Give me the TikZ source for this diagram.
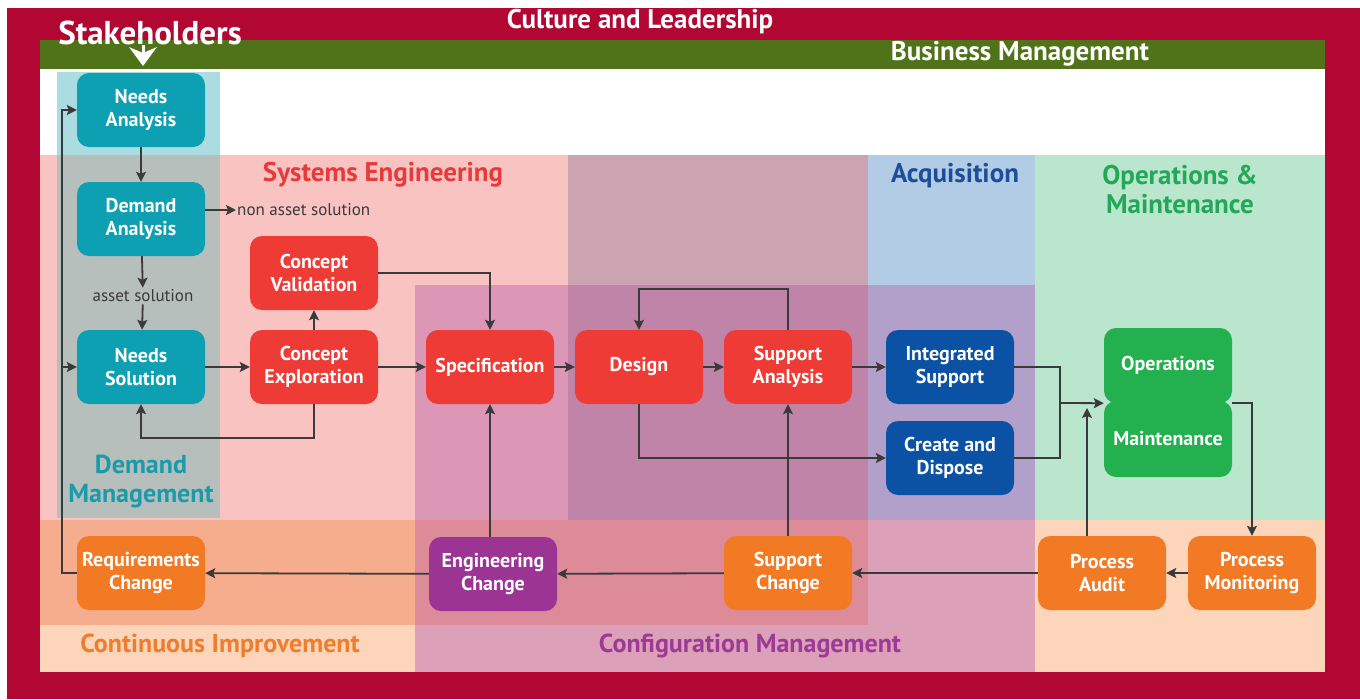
\documentclass[tikz,border=0pt]{standalone}
\usepackage{fontspec}
\setmainfont{PT Sans}
\usetikzlibrary{arrows.meta}
\definecolor{crimson}{RGB}{178,7,51}
\definecolor{bmgreen}{RGB}{80,115,26}
\definecolor{sepink}{RGB}{249,195,194}
\definecolor{mauve}{RGB}{204,163,177}
\definecolor{acqblue}{RGB}{179,204,229}
\definecolor{omgreen}{RGB}{185,230,204}
\definecolor{cmpink}{RGB}{220,150,182}
\definecolor{cmmauve}{RGB}{191,132,168}
\definecolor{cmblue}{RGB}{178,160,203}
\definecolor{ciorange}{RGB}{246,173,142}
\definecolor{cmorange}{RGB}{221,138,153}
\definecolor{peach}{RGB}{252,213,186}
\definecolor{cmlight}{RGB}{220,161,185}
\definecolor{dmlight}{RGB}{170,220,226}
\definecolor{dmgray}{RGB}{182,191,187}
\definecolor{tealbox}{RGB}{12,160,178}
\definecolor{redbox}{RGB}{238,59,53}
\definecolor{bluebox}{RGB}{11,82,164}
\definecolor{greenbox}{RGB}{35,177,79}
\definecolor{orangebox}{RGB}{242,122,36}
\definecolor{purplebox}{RGB}{156,52,148}
\definecolor{setext}{RGB}{231,58,58}
\definecolor{acqtext}{RGB}{28,78,154}
\definecolor{omtext}{RGB}{35,168,90}
\definecolor{dmtext}{RGB}{27,154,170}
\definecolor{citext}{RGB}{238,125,46}
\definecolor{cmtext}{RGB}{157,58,150}
\definecolor{linegray}{RGB}{58,58,58}

\begin{document}
\begin{tikzpicture}[x=1pt,y=-1pt,
    box/.style={rounded corners=12pt,minimum width=128pt,minimum height=74pt,inner sep=2pt,text=white,align=center,font=\bfseries\fontsize{20}{23}\selectfont},
    title/.style={font=\bfseries\fontsize{27}{29}\selectfont,align=center},
    note/.style={font=\fontsize{17}{20}\selectfont,text=linegray},
    link/.style={draw=linegray,line width=1.8pt,-{Stealth[length=10pt,width=10pt,inset=2pt]}},
    plain/.style={draw=linegray,line width=1.8pt}]
    \useasboundingbox(0,0)rectangle(1360,699);
    \fill[crimson](7,8)rectangle(1360,699);
    \fill[white](40,40)rectangle(1325,672);
    \fill[bmgreen](40,40)rectangle(1325,69);
    \fill[sepink](40,155)rectangle(568,520);
    \fill[mauve](568,155)rectangle(868,285);
    \fill[acqblue](868,155)rectangle(1035,285);
    \fill[cmblue](868,285)rectangle(1035,520);
    \fill[omgreen](1035,155)rectangle(1325,520);
    \fill[cmpink](415,285)rectangle(568,520);
    \fill[cmmauve](568,285)rectangle(868,520);
    \fill[ciorange](40,520)rectangle(415,625);
    \fill[cmorange](415,520)rectangle(868,625);
    \fill[peach](40,625)rectangle(415,672);
    \fill[cmlight](415,625)rectangle(1035,672);
    \fill[cmlight](868,520)rectangle(1035,625);
    \fill[peach](1035,520)rectangle(1325,672);
    \fill[dmlight](57,72)rectangle(220,155);
    \fill[dmgray](57,155)rectangle(220,518);

    \node[title,text=white](cltitle)at(640,22){Culture and Leadership};
    \node[title,text=white](bmtitle)at(1020,54){Business Management};
    \node[title,text=white,font=\bfseries\fontsize{33}{36}\selectfont](stake)at(150,33){Stakeholders};
    \node[title,text=setext](setitle)at(383,175){Systems Engineering};
    \node[title,text=acqtext](acqtitle)at(955,176){Acquisition};
    \node[title,text=omtext](omtitle)at(1180,190){Operations \&\\Maintenance};
    \node[title,text=dmtext,font=\bfseries\fontsize{26}{29}\selectfont](dmtitle)at(141,482){Demand\\Management};
    \node[title,text=citext,font=\bfseries\fontsize{26}{29}\selectfont](cititle)at(220,646){Continuous Improvement};
    \node[title,text=cmtext,font=\bfseries\fontsize{26}{29}\selectfont](cmtitle)at(750,646){Configuration Management};

    \node[box,fill=tealbox](needs)at(141,110){Needs\\Analysis};
    \node[box,fill=tealbox](demand)at(141,219){Demand\\Analysis};
    \node[box,fill=tealbox](needsol)at(141,367){Needs\\Solution};
    \node[box,fill=redbox](cval)at(314,273){Concept\\Validation};
    \node[box,fill=redbox](cexp)at(314,367){Concept\\Exploration};
    \node[box,fill=redbox](spec)at(490,367){Specification};
    \node[box,fill=redbox](design)at(639,367){Design};
    \node[box,fill=redbox](sana)at(788,367){Support\\Analysis};
    \node[box,fill=bluebox](isup)at(950,367){Integrated\\Support};
    \node[box,fill=bluebox](cdisp)at(950,458){Create and\\Dispose};
    \node[box,fill=greenbox,minimum height=76pt](maint)at(1168,439){Maintenance};
    \node[box,fill=greenbox,minimum height=75pt](ops)at(1168,365.5){Operations};
    \node[box,fill=orangebox](rchg)at(141,573){Requirements\\Change};
    \node[box,fill=purplebox](echg)at(493,574){Engineering\\Change};
    \node[box,fill=orangebox](schg)at(788,573){Support\\Change};
    \node[box,fill=orangebox](paud)at(1102,573){Process\\Audit};
    \node[box,fill=orangebox](pmon)at(1252,573){Process\\Monitoring};

    \node[note,anchor=west,inner sep=1pt](nonasset)at(236,210){non asset solution};
    \node[note,inner sep=2pt](asset)at(143,296){asset solution};

    \coordinate(stakeend)at(143,66);
    \coordinate(merge)at(1060,403);
    \coordinate(auditend)at(1087,408);
    \draw[white,line width=3pt](stake.base-|stakeend)--++(0,10);
    \fill[white](stakeend)--++(-14,-19)--++(14,6)--++(14,-6)--cycle;

    \draw[link](needs)--(demand);
    \draw[link](demand.east|-nonasset.west)--(nonasset.west);
    \draw[link](demand)--(asset);
    \draw[link](asset)--(needsol);
    \draw[link](needsol)--(cexp);
    \draw[link](cexp)--(cval);
    \draw[link](cexp.south)--++(0,34)-|(needsol.south);
    \draw[link](cval.east)-|(spec.north);
    \draw[link](cexp)--(spec);
    \draw[link](spec)--(design);
    \draw[link](design)--(sana);
    \draw[link](sana.north)--++(0,-41)-|(design.north);
    \draw[link](sana)--(isup);
    \draw[link](design.south)|-(cdisp.west);
    \draw[plain](isup.east)-|(merge);
    \draw[plain](cdisp.east)-|(merge);
    \draw[link](merge)--(ops.south west);
    \draw[link](ops.south east)-|(pmon.north);
    \draw[link](pmon)--(paud);
    \draw[link](paud.north-|auditend)--(auditend);
    \draw[link](paud)--(schg);
    \draw[link](schg)--(sana);
    \draw[link](schg)--(echg);
    \draw[link](spec.south|-echg.north)--(spec.south);
    \draw[link](echg)--(rchg);
    \draw[link](rchg.west)-|([xshift=-15pt]needs.west)--(needs.west);
    \draw[link]([xshift=-15pt]needsol.west)--(needsol.west);
\end{tikzpicture}
\end{document}
